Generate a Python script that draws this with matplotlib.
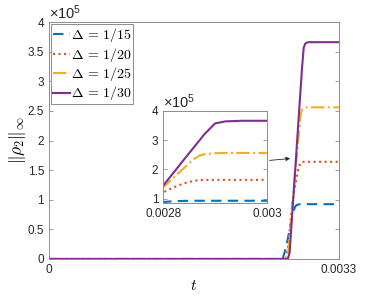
import numpy as np
import matplotlib.pyplot as plt
from matplotlib.ticker import FuncFormatter

plt.rcParams["font.family"] = ["Liberation Sans", "DejaVu Sans"]
plt.rcParams["mathtext.fontset"] = "cm"

t = [0, 0.00266, 0.00270, 0.00272, 0.00274, 0.00276, 0.00278, 0.00280, 0.00282,
     0.00284, 0.00286, 0.00287, 0.00288, 0.00290, 0.00292, 0.00295, 0.0030, 0.0033]

rho_15 = [0, 0, 0.20, 0.35, 0.50, 0.65, 0.78, 0.88, 0.91,
          0.92, 0.925, 0.925, 0.925, 0.925, 0.925, 0.925, 0.925, 0.925]
rho_20 = [0, 0, 0, 0.20, 0.50, 0.80, 1.05, 1.21, 1.38,
          1.52, 1.61, 1.63, 1.64, 1.64, 1.64, 1.64, 1.64, 1.64]
rho_25 = [0, 0, 0, 0.06, 0.39, 0.72, 1.05, 1.38, 1.71,
          2.04, 2.36, 2.47, 2.52, 2.55, 2.56, 2.56, 2.56, 2.56]
rho_30 = [0, 0, 0, 0, 0.11, 0.56, 1.00, 1.44, 1.88,
          2.33, 2.77, 2.99, 3.21, 3.57, 3.64, 3.66, 3.66, 3.66]

labels = [r"$\Delta\,=\,1/15$", r"$\Delta\,=\,1/20$", r"$\Delta\,=\,1/25$", r"$\Delta\,=\,1/30$"]
colors = ["#0072BD", "#D95319", "#EDB120", "#7E2F8E"]
styles = [(0, (5, 3)), ":", "-.", "-"]
series = [np.array(r) * 1e5 for r in [rho_15, rho_20, rho_25, rho_30]]

fig = plt.figure(figsize=(3.74, 2.98), dpi=100)
ax = fig.add_axes([0.131, 0.131, 0.775, 0.795])

for y, c, ls, lab in zip(series, colors, styles, labels):
    ax.plot(t, y, color=c, ls=ls, lw=1.5, label=lab)

sci = FuncFormatter(lambda v, p: "%g" % (v / 1e5))
edge = "#8c8c8c"
offset_lbl = r"$\mathregular{×10^5}$"


def style_axes(a):
    for s in a.spines.values():
        s.set_color(edge)
        s.set_linewidth(0.7)
    a.tick_params(direction="in", length=3, width=0.6, color=edge,
                  labelsize=8.5, labelcolor="#262626", top=False, right=True)
    a.yaxis.set_major_formatter(sci)


ax.set_xlim(0, 0.0033)
ax.set_ylim(0, 4e5)
ax.set_xticks([0, 0.0033])
ax.set_xticklabels(["0", "0.0033"])
ax.set_yticks(np.arange(0, 4.01e5, 0.5e5))
style_axes(ax)
ax.text(0.0, 1.0, offset_lbl, transform=ax.transAxes, fontsize=10.5,
        color="#262626", va="bottom")
ax.set_xlabel(r"$t$", fontsize=11, labelpad=2)
ax.set_ylabel(r"$\|\rho_2\|_\infty$", fontsize=12.5, labelpad=0)

leg = ax.legend(loc="upper left", fontsize=10, handlelength=1.2, handletextpad=0.05,
                borderpad=0.15, labelspacing=0.1, borderaxespad=0.15,
                fancybox=False, framealpha=1)
leg.get_frame().set_edgecolor(edge)
leg.get_frame().set_linewidth(0.7)

ins = fig.add_axes([0.436, 0.319, 0.278, 0.309])
for y, c, ls in zip(series, colors, styles):
    ins.plot(t, y, color=c, ls=ls, lw=1.5)
ins.set_xlim(0.0028, 0.003)
ins.set_ylim(0.85e5, 4e5)
ins.set_xticks([0.0028, 0.003])
ins.set_xticklabels(["0.0028", "0.003"])
ins.set_yticks([1e5, 2e5, 3e5, 4e5])
style_axes(ins)
ins.text(0.0, 1.0, offset_lbl, transform=ins.transAxes, fontsize=10.5,
         color="#262626", va="bottom")

ax.annotate("", xy=(0.002777, 1.70e5), xytext=(0.00248, 1.66e5),
            arrowprops=dict(arrowstyle="-|>", color="#262626", lw=0.6,
                            mutation_scale=6))

fig.savefig("out.png", dpi=100)
